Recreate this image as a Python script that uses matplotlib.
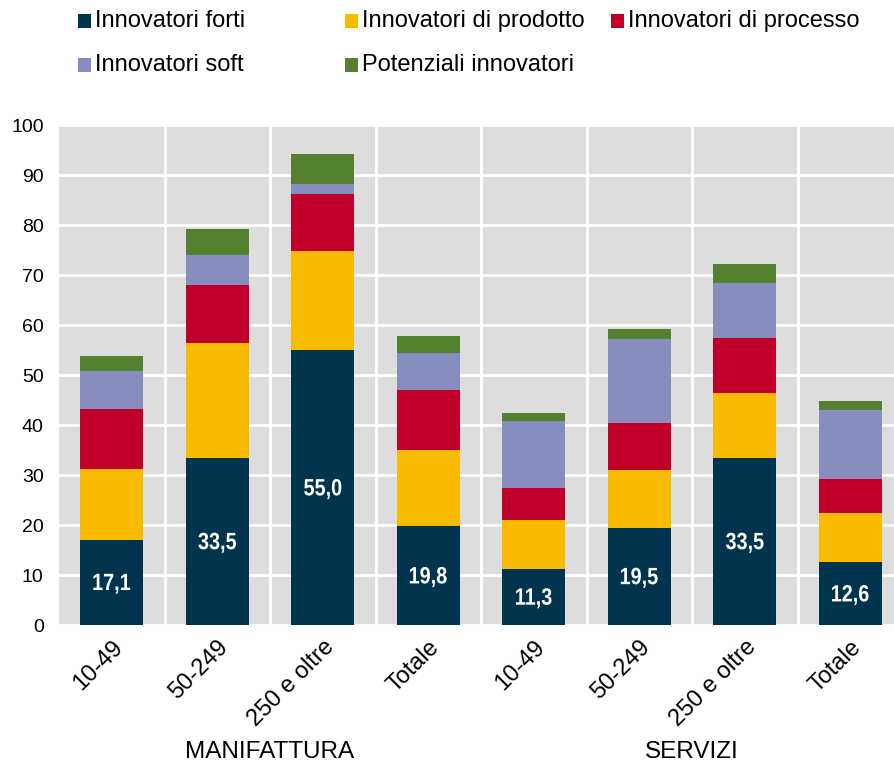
import matplotlib
matplotlib.use("Agg")
import matplotlib.pyplot as plt
from matplotlib import font_manager
from matplotlib.patches import Rectangle, PathPatch
from matplotlib.textpath import TextPath
from matplotlib.transforms import blended_transform_factory, Affine2D, ScaledTranslation
import numpy as np

# ---------------- data ----------------
categories = ["10-49", "50-249", "250 e oltre", "Totale",
              "10-49", "50-249", "250 e oltre", "Totale"]
groups = ["MANIFATTURA", "SERVIZI"]
series_names = ["Innovatori forti", "Innovatori di prodotto", "Innovatori di processo",
                "Innovatori soft", "Potenziali innovatori"]
forti = [17.1, 33.5, 55.0, 19.8, 11.3, 19.5, 33.5, 12.6]
prodotto = [14.2, 22.9, 19.8, 15.3, 9.7, 11.6, 12.9, 9.9]
processo = [11.9, 11.6, 11.4, 11.9, 6.4, 9.3, 11.0, 6.7]
soft = [7.7, 6.1, 2.0, 7.5, 13.5, 16.8, 11.0, 13.8]
potenziali = [3.0, 5.1, 6.0, 3.3, 1.6, 2.1, 3.9, 1.8]
yticks = [0, 10, 20, 30, 40, 50, 60, 70, 80, 90, 100]

colors = ["#00334E", "#F9BB00", "#C0002A", "#878DBF", "#538130"]

# ---------------- fonts ----------------
def have(name):
    try:
        font_manager.findfont(font_manager.FontProperties(family=name), fallback_to_default=False)
        return True
    except Exception:
        return False

base_font = "Liberation Sans" if have("Liberation Sans") else "DejaVu Sans"
plt.rcParams["font.family"] = [base_font, "DejaVu Sans"]

# ---------------- figure ----------------
W, H = 894, 764
DPI = 100
fig = plt.figure(figsize=(W / DPI, H / DPI), dpi=DPI)
ax_left, ax_right, ax_top, ax_bottom = 59, 894, 125, 625
ax = fig.add_axes([ax_left / W, 1 - ax_bottom / H, (ax_right - ax_left) / W, (ax_bottom - ax_top) / H])
ax.set_facecolor("#DDDDDD")

x = np.arange(len(categories))
cat_px = 105.5
ax.set_xlim(-0.5, -0.5 + (ax_right - ax_left) / cat_px)
ax.set_ylim(0, 100)

series = [forti, prodotto, processo, soft, potenziali]
bottom = np.zeros(len(categories))
for vals, col in zip(series, colors):
    ax.bar(x, vals, width=0.6, bottom=bottom, color=col, edgecolor="none", zorder=3)
    bottom = bottom + np.array(vals)

# grid / ticks
ax.set_yticks(yticks)
ax.set_yticklabels([str(t) for t in yticks], fontsize=14)
ax.grid(axis="y", color="white", linewidth=2, zorder=1)
ax.set_xticks(x)
ax.set_xticklabels(categories, rotation=45, ha="right", va="top",
                   rotation_mode="anchor", fontsize=17)
shift = ScaledTranslation(-8 / DPI, 0, fig.dpi_scale_trans)
for lab in ax.get_xticklabels():
    lab.set_transform(lab.get_transform() + shift)
ax.set_xticks(np.arange(0.5, len(categories) - 0.5, 1.0), minor=True)
ax.grid(axis="x", which="minor", color="white", linewidth=2, zorder=1)
ax.grid(axis="x", which="major", visible=False)
ax.tick_params(axis="both", which="both", length=0)
ax.tick_params(axis="y", pad=11)
ax.tick_params(axis="x", pad=8)
for s in ax.spines.values():
    s.set_visible(False)

# value labels on forti (condensed bold, like Arial Narrow)
fp_bold = font_manager.FontProperties(family=base_font, weight="bold")
px_em = 17 * DPI / 72.0
fig.canvas.draw()
for xi, v in zip(x, forti):
    s = f"{v:.1f}".replace(".", ",")
    tp = TextPath((0, 0), s, size=1, prop=fp_bold)
    bb = tp.get_extents()
    cx, cy = ax.transData.transform((xi, v / 2))
    tr = (Affine2D().translate(-(bb.x0 + bb.x1) / 2, -(bb.y0 + bb.y1) / 2)
          .scale(px_em * 0.84, px_em).translate(cx, cy - 1.5))
    fig.add_artist(PathPatch(tp, transform=tr, facecolor="white", edgecolor="none", zorder=5))

# group labels
trans = blended_transform_factory(ax.transData, ax.transAxes)
ax.text(1.5, -0.254, groups[0], transform=trans, ha="center", va="center", fontsize=17.5)
ax.text(5.5, -0.254, groups[1], transform=trans, ha="center", va="center", fontsize=17.5)

# legend (manual layout)
leg_pos = [(78, 21), (345, 21), (611, 21), (78, 65), (345, 65)]
for (lx, ly), name, col in zip(leg_pos, series_names, colors):
    fig.patches.append(Rectangle((lx / W, 1 - (ly + 7) / H), 13 / W, 14 / H,
                                 transform=fig.transFigure, facecolor=col, edgecolor="none"))
    fig.text((lx + 17) / W, 1 - ly / H, name, ha="left", va="center", fontsize=17)

fig.savefig("out.png", dpi=DPI)
